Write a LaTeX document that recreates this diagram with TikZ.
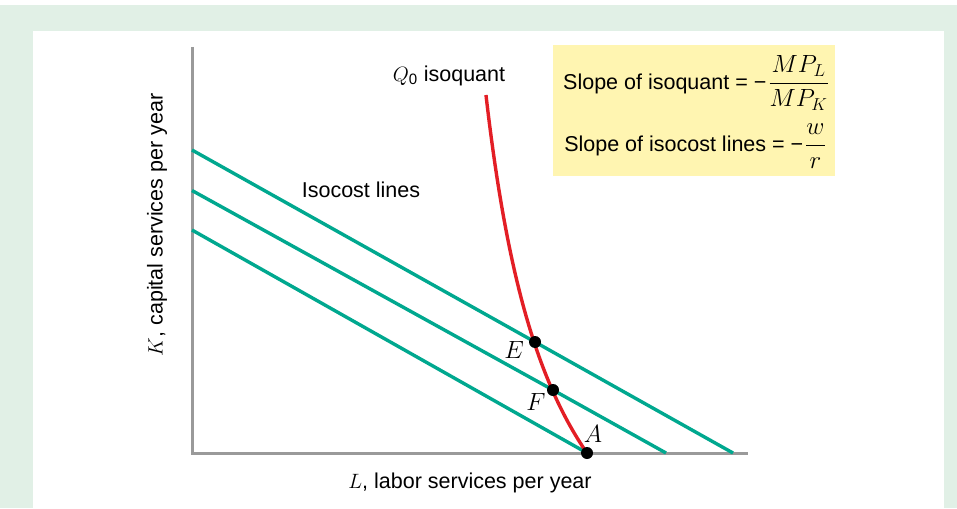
\documentclass[tikz,border=0pt]{standalone}
\usepackage{fontspec}
\setmainfont{Liberation Sans}
\usepackage{amsmath}
\usepackage{tikz}
\usetikzlibrary{positioning,calc}
\definecolor{panelgreen}{HTML}{E1F0E6}
\definecolor{costteal}{HTML}{00A88F}
\definecolor{quantred}{HTML}{E31E25}
\definecolor{axisgrey}{HTML}{9A9A9A}
\definecolor{noteyellow}{HTML}{FFF5B1}
\newcommand{\bigmath}[1]{{\fontsize{24}{27}\selectfont$#1$}}

\begin{document}
\begin{tikzpicture}[
    x=1pt, y=-1pt,
    every node/.style={font=\fontsize{21.5}{25}\selectfont, inner sep=1pt},
    axis/.style={axisgrey, line width=3pt},
    isocost/.style={costteal, line width=3.4pt},
    isoquant/.style={quantred, line width=3.4pt},
    pt/.style={circle, fill=black, inner sep=0pt, minimum size=12pt},
    ptlab/.style={font=\fontsize{25}{28}\selectfont},
    notebox/.style={fill=noteyellow, minimum width=282pt, minimum height=131pt}
  ]
  \useasboundingbox (0,0) rectangle (957,508);

  % --- background panel ---------------------------------------------------
  \fill[panelgreen] (0,5) rectangle (957,508);
  \fill[white] (33,31) rectangle (944,508);

  % --- axes ---------------------------------------------------------------
  \coordinate (origin) at (192,453);
  \draw[axis] (192,47) -- (origin) -- (748,453);
  \node[rotate=90] (klab) at (157,225) {$K$, capital services per year};
  \node (llab) at (470,483) {$L$, labor services per year};

  % --- tangency and end points ---------------------------------------------
  \coordinate (E) at (535,342);
  \coordinate (F) at (553,390);
  \coordinate (A) at (587,453);
  \node[ptlab] (elab) at (514,350) {$E$};
  \node[ptlab] (flab) at (536,402) {$F$};
  \node[ptlab] (alab) at (593,434) {$A$};

  % --- isocost lines --------------------------------------------------------
  \coordinate (c1) at (192,150);
  \coordinate (c2) at (192,190.5);
  \coordinate (c3) at (192,230);
  \coordinate (c1end) at (733,453);
  \coordinate (c2end) at (666,453);
  \draw[isocost] (c1) -- (E) -- (c1end);
  \draw[isocost] (c2) -- (F) -- (c2end);
  \draw[isocost] (c3) -- (A);
  \node (costlab) at (361,190) {Isocost lines};

  % --- isoquant: x = a + b/(c - y) ------------------------------------------
  \draw[isoquant] plot[domain=95:453, samples=80, variable=\t]
    ({416.3 + 421.54/(7 - \t/100)}, \t);
  \node (qlab) at (449,76) {$Q_{\text{0}}$ isoquant};

  % dots on top
  \foreach \n in {E,F,A} {\node[pt] (\n dot) at (\n) {};}

  % --- slope note -----------------------------------------------------------
  \node[notebox] (slopes) at (694,110.5) {};
  \node (isoqslope) at (696,83) {Slope of isoquant = −\kern2pt\bigmath{\dfrac{MP_L}{MP_K}}};
  \node (costslope) at (695,146) {Slope of isocost lines = −\kern2pt\bigmath{\dfrac{w}{r}}};

\end{tikzpicture}
\end{document}
